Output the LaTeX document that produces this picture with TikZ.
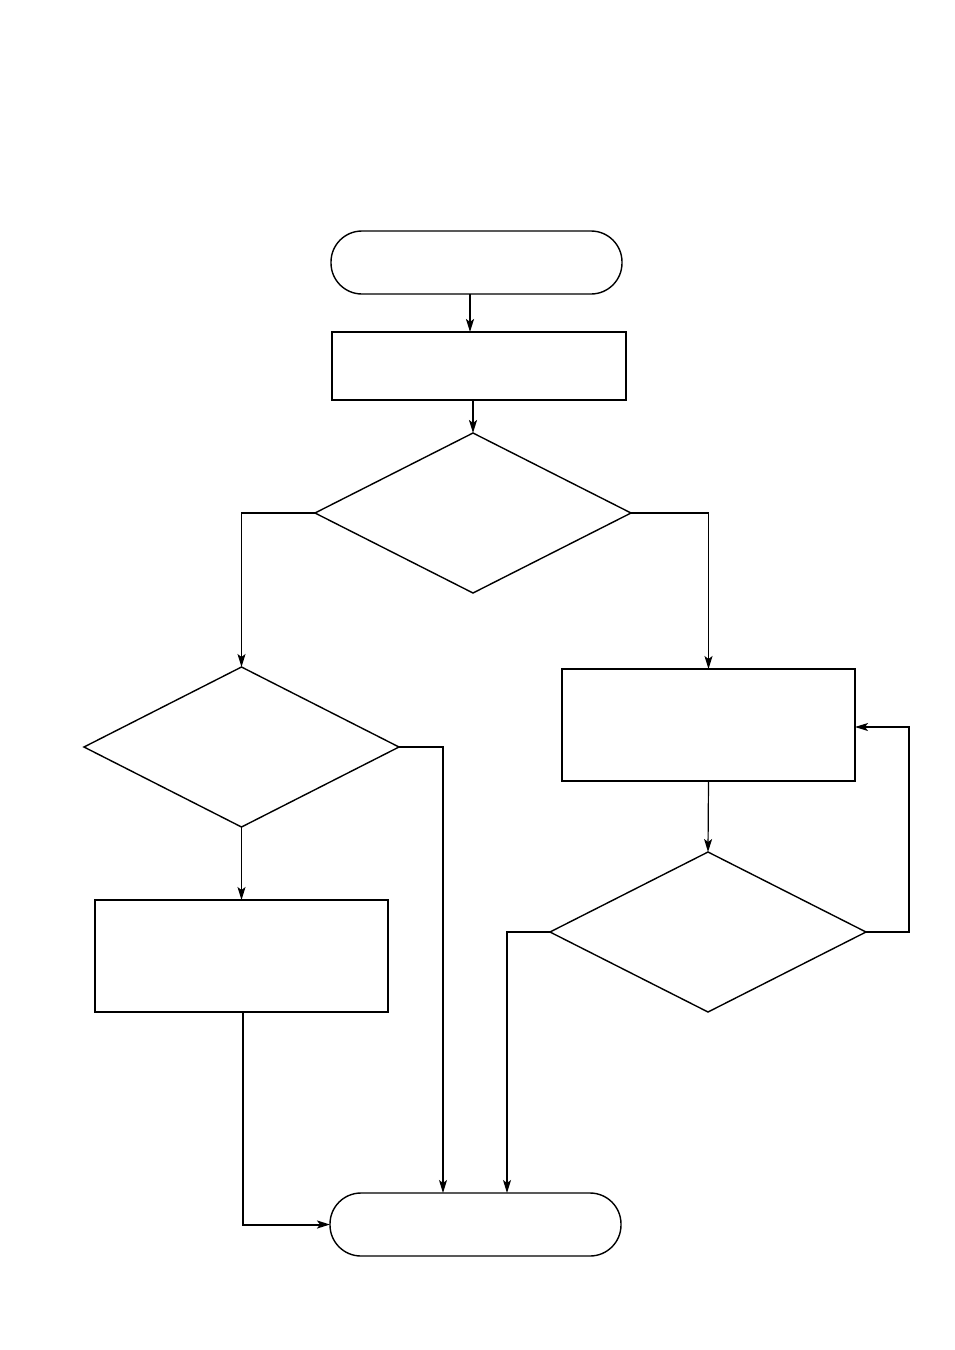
\documentclass[tikz,border=0pt]{standalone}
\usetikzlibrary{shapes.geometric,arrows.meta,calc}
\tikzset{
  term/.style={draw,line width=1.4pt,rounded corners=31pt,inner sep=0pt,outer sep=0pt},
  procbox/.style={draw,line width=2pt,inner sep=0pt,outer sep=0pt},
  decide/.style={draw,diamond,line width=1.4pt,inner sep=0pt,outer sep=0pt},
  conn/.style={line width=1.2pt,-{Stealth[length=13pt,width=8pt,inset=3pt]}},
  thickconn/.style={conn,line width=2pt}
}
\begin{document}
\begin{tikzpicture}[x=1pt,y=-1pt]
\path[use as bounding box,fill=white] (0,0) rectangle (954,1350);
\node[term,minimum width=291pt,minimum height=63pt] (start) at (476.5,262.5) {};
\node[procbox,minimum width=294pt,minimum height=68pt] (box1) at (479,366) {};
\node[decide,minimum width=316pt,minimum height=160pt] (d1) at (473,513) {};
\node[decide,minimum width=315pt,minimum height=160pt] (d2) at (241.5,747) {};
\node[procbox,minimum width=293pt,minimum height=112pt] (boxR) at (708.5,725) {};
\node[decide,minimum width=316pt,minimum height=160pt] (d3) at (708,932) {};
\node[procbox,minimum width=293pt,minimum height=112pt] (boxL) at (241.5,956) {};
\node[term,minimum width=291pt,minimum height=63pt] (end) at (475.5,1224.5) {};
\coordinate (c2) at ([xshift=44pt]d2.east);
\coordinate (c3) at ([xshift=-43pt]d3.west);
\coordinate (c4) at ([xshift=43pt]d3.east);
\coordinate (c5) at ([xshift=1.5pt]boxL.south);
\draw[thickconn] ([xshift=-6.5pt]start.south) -- ([xshift=-6.5pt]start.south |- box1.north);
\draw[thickconn] (d1.north |- box1.south) -- (d1.north);
\draw[conn] (d1.west) -| (d2.north);
\draw[conn] (d1.east) -| (boxR.north);
\draw[conn] (d2.south) -- (boxL.north);
\draw[conn] (boxR.south) -- (d3.north);
\draw[conn] (d3.east) -- (c4) |- ([yshift=-2pt]boxR.east);
\draw[conn] (d3.west) -- (c3) -- (c3 |- end.north);
\draw[conn] (d2.east) -- (c2) -- (c2 |- end.north);
\draw[thickconn] (c5) |- (end.west);
\end{tikzpicture}
\end{document}
